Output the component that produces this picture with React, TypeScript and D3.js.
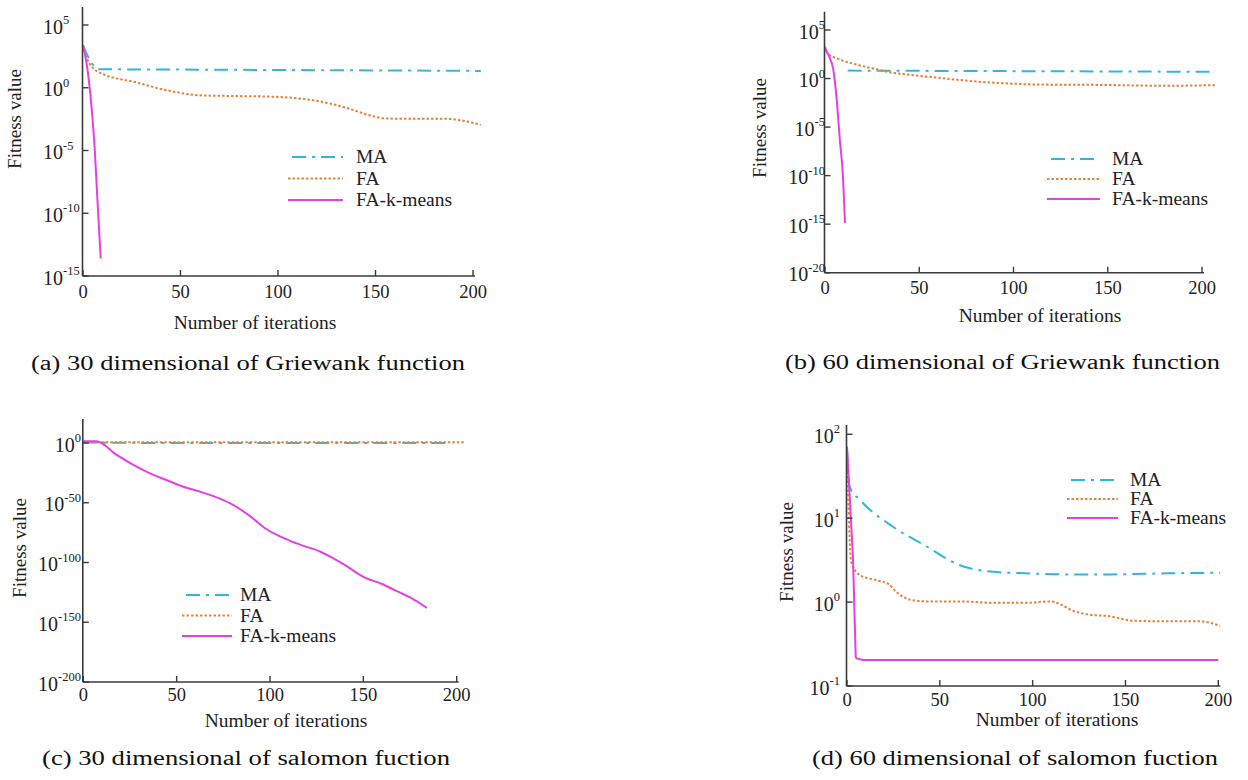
import React from 'react';
import * as d3 from 'd3';

type Pt = [number, number];

// (a) 30 dimensional Griewank — [iteration, fitness]
const griewank30MA: Pt[] = [[0, 2.5e3], [4, 1.2e2], [8, 30], [50, 28], [100, 26], [150, 24], [204, 22]];
const griewank30FA: Pt[] = [[0, 2e3], [3.4, 80], [10, 12.6], [26, 3], [43, 0.63], [60, 0.25], [77, 0.22], [94, 0.2], [111, 0.14], [128, 0.05], [138, 0.018], [146, 7e-3], [156, 3.5e-3], [170, 3.4e-3], [185, 3.4e-3], [194, 2.5e-3], [204, 1.1e-3]];
const griewank30FAK: Pt[] = [[0, 2.5e3], [2, 60], [4.3, 4e-2], [6, 1.4e-5], [7.35, 1.6e-9], [8.5, 1e-12], [9.1, 2.5e-14]];

// (b) 60 dimensional Griewank
const griewank60MA: Pt[] = [[12, 6.6], [50, 6.2], [100, 5.8], [150, 5.4], [204, 4.9]];
const griewank60FA: Pt[] = [[0, 2e3], [1.2, 450], [8, 91], [16.8, 27.5], [25.6, 10.7], [34.5, 4.5], [43.3, 2.6], [61, 1.17], [78.7, 0.52], [96, 0.32], [114, 0.24], [146, 0.22], [181, 0.18], [208, 0.21]];
const griewank60FAK: Pt[] = [[0, 1.45e3], [2.1, 200], [4.4, 8.5], [6.2, 6.9e-3], [8, 2.5e-7], [9.4, 2e-10], [10.6, 1.3e-15]];

// (c) 30 dimensional salomon
const salomon30MA: Pt[] = [[0, 3], [50, 1], [100, 1], [150, 1], [195, 1]];
const salomon30FA: Pt[] = [[0, 4], [50, 4], [100, 4], [150, 4], [204, 4]];
const salomon30FAK: Pt[] = [[0, 30], [7, 30], [17.9, 1e-10], [26.8, 4e-19], [35.7, 4e-26], [44.6, 1e-31], [53.6, 2.5e-37], [62.5, 2e-41], [71.4, 3e-46], [80.4, 1.3e-52], [90, 1e-62], [98, 1e-72], [108, 1e-80], [116, 1e-85], [127, 1e-91], [134, 3e-97], [142, 1e-104], [150, 1e-112], [160, 1e-118], [168, 1e-124], [176, 1e-130], [184, 1e-138]];

// (d) 60 dimensional salomon
const salomon60MA: Pt[] = [[0, 67], [1.5, 23.4], [6.9, 16.6], [24.8, 7.9], [42.9, 4.6], [60.8, 2.75], [78.8, 2.3], [96.7, 2.2], [118, 2.14], [141.7, 2.14], [172, 2.2], [201, 2.24]];
const salomon60FA: Pt[] = [[0, 67], [2.3, 3.0], [6.9, 2.1], [15.9, 1.82], [22.1, 1.66], [26.6, 1.32], [33.8, 1.07], [42.7, 1.02], [60.7, 1.02], [78.7, 0.98], [96.7, 0.98], [109, 1.02], [114.5, 0.95], [121.6, 0.79], [130.5, 0.71], [141.3, 0.68], [154, 0.6], [172, 0.59], [190, 0.59], [201, 0.52]];
const salomon60FAK: Pt[] = [[0, 71], [3.2, 3.5], [4.7, 0.224], [5, 0.214], [6.8, 0.209], [8.6, 0.204], [200, 0.204]];

const seriesNames = ['MA', 'FA', 'FA-k-means'];
const xTicks = [0, 50, 100, 150, 200];
const yExpA = [5, 0, -5, -10, -15];
const yExpB = [5, 0, -5, -10, -15, -20];
const yExpC = [0, -50, -100, -150, -200];
const yExpD = [2, 1, 0, -1];
const captions = [
  '(a) 30 dimensional of Griewank function',
  '(b) 60 dimensional of Griewank function',
  '(c) 30 dimensional of salomon fuction',
  '(d) 60 dimensional of salomon fuction',
];

const colors = ['#2fb8de', '#e6833d', '#e540e5'];
const dashes = ['14 6 3 6', '2.5 2', undefined];
const widths = [2, 2, 2];
const font = "'Liberation Serif', 'Times New Roman', serif";
const ink = '#222';

const panels = [
  { data: [griewank30MA, griewank30FA, griewank30FAK], exps: yExpA, x0: 83, x1: 473, yb: 276, yt: 25, top: 7,
    labelMode: 'left', labelX: 43, tickDy: 22, yTitle: [21, 119], xTitle: [255, 329],
    legend: { x: 288, y: 157, gap: 21.5, len: 55, tx: 68 }, cap: { x: 31, y: 370, w: 434 } },
  { data: [griewank60MA, griewank60FA, griewank60FAK], exps: yExpB, x0: 825, x1: 1202, yb: 272.7, yt: 30, top: 11.7,
    labelMode: 'right', labelX: 825, tickDy: 21, yTitle: [766, 128], xTitle: [1040, 322],
    legend: { x: 1047, y: 159, gap: 20, len: 53, tx: 65 }, cap: { x: 785, y: 369, w: 435 } },
  { data: [salomon30MA, salomon30FA, salomon30FAK], exps: yExpC, x0: 83.3, x1: 456.7, yb: 682, yt: 443, top: 419,
    labelMode: 'right', labelX: 81, tickDy: 18.5, yTitle: [26, 548], xTitle: [286, 727],
    legend: { x: 182, y: 595, gap: 20.5, len: 50, tx: 58 }, cap: { x: 42, y: 765, w: 408 } },
  { data: [salomon60MA, salomon60FA, salomon60FAK], exps: yExpD, x0: 847, x1: 1218.3, yb: 686, yt: 434.3, top: 425,
    labelMode: 'right', labelX: 840, tickDy: 20, yTitle: [793, 552], xTitle: [1057, 726],
    legend: { x: 1067, y: 480, gap: 19, len: 51, tx: 63 }, cap: { x: 812, y: 765, w: 406 } },
];

function Panel({ p, caption, linearLast }: any) {
  const exps: number[] = p.exps;
  const x = d3.scaleLinear().domain([0, 200]).range([p.x0, p.x1]);
  const y = d3.scaleLog()
    .domain([Math.pow(10, d3.min(exps)!), Math.pow(10, d3.max(exps)!)])
    .range([p.yb, p.yt]);
  const mk = (curve: any) => d3.line<Pt>().x(d => x(d[0])).y(d => y(d[1])).curve(curve);
  const smooth = mk(d3.curveMonotoneX);
  const straight = mk(d3.curveLinear);
  const axisX = p.x0 - 0.5;

  return (
    <g fontFamily={font} fill={ink}>
      {/* series */}
      {p.data.map((s: Pt[], i: number) => (
        <path key={i} d={(i === 2 && linearLast ? straight : smooth)(s) || ''} fill="none"
          stroke={colors[i]} strokeWidth={widths[i]} strokeDasharray={dashes[i]} strokeLinejoin="round" />
      ))}

      {/* axes */}
      <line x1={axisX} x2={axisX} y1={p.top} y2={p.yb} stroke="#3a3a3a" strokeWidth={1.6} />
      <line x1={axisX} x2={x(200) + 2} y1={p.yb} y2={p.yb} stroke="#3a3a3a" strokeWidth={1.6} />
      {xTicks.map(t => (
        <g key={t}>
          <line x1={x(t)} x2={x(t)} y1={p.yb} y2={p.yb - 6} stroke="#3a3a3a" strokeWidth={1.4} />
          <text x={x(t)} y={p.yb + p.tickDy} textAnchor="middle" fontSize={18.5}>{t}</text>
        </g>
      ))}
      {exps.map(e => {
        const yy = y(Math.pow(10, e));
        return (
          <g key={e}>
            <line x1={axisX} x2={axisX + 6} y1={yy} y2={yy} stroke="#3a3a3a" strokeWidth={1.4} />
            <text x={p.labelX} y={yy + 8.5} textAnchor={p.labelMode === 'left' ? 'start' : 'end'} fontSize={20}>
              <tspan>10</tspan>
              <tspan dy={-9.5} fontSize={12.5}>{e}</tspan>
            </text>
          </g>
        );
      })}

      {/* axis titles */}
      <text transform={`translate(${p.yTitle[0]},${p.yTitle[1]}) rotate(-90)`} textAnchor="middle" fontSize={19}>Fitness value</text>
      <text x={p.xTitle[0]} y={p.xTitle[1]} textAnchor="middle" fontSize={19.5}>Number of iterations</text>

      {/* legend */}
      {seriesNames.map((n, i) => {
        const ly = p.legend.y + i * p.legend.gap;
        return (
          <g key={n}>
            <line x1={p.legend.x + (i === 0 ? 4 : 0)} x2={p.legend.x + p.legend.len} y1={ly} y2={ly}
              stroke={colors[i]} strokeWidth={widths[i]} strokeDasharray={dashes[i]} />
            <text x={p.legend.x + p.legend.tx} y={ly + 6} fontSize={19.5}>{n}</text>
          </g>
        );
      })}

      {/* caption */}
      <text x={p.cap.x} y={p.cap.y} fontSize={20} fill="#111" textLength={p.cap.w} lengthAdjust="spacingAndGlyphs">
        {caption}
      </text>
    </g>
  );
}

export default function App() {
  return (
    <div style={{ position: 'absolute', left: 0, top: 0 }}>
      <svg width={1248} height={780} viewBox="0 0 1248 780" style={{ display: 'block', background: '#fff' }}>
        <rect width={1248} height={780} fill="#fff" />
        {panels.map((p, i) => (
          <Panel key={i} p={p} caption={captions[i]} linearLast={i === 3} />
        ))}
      </svg>
    </div>
  );
}
